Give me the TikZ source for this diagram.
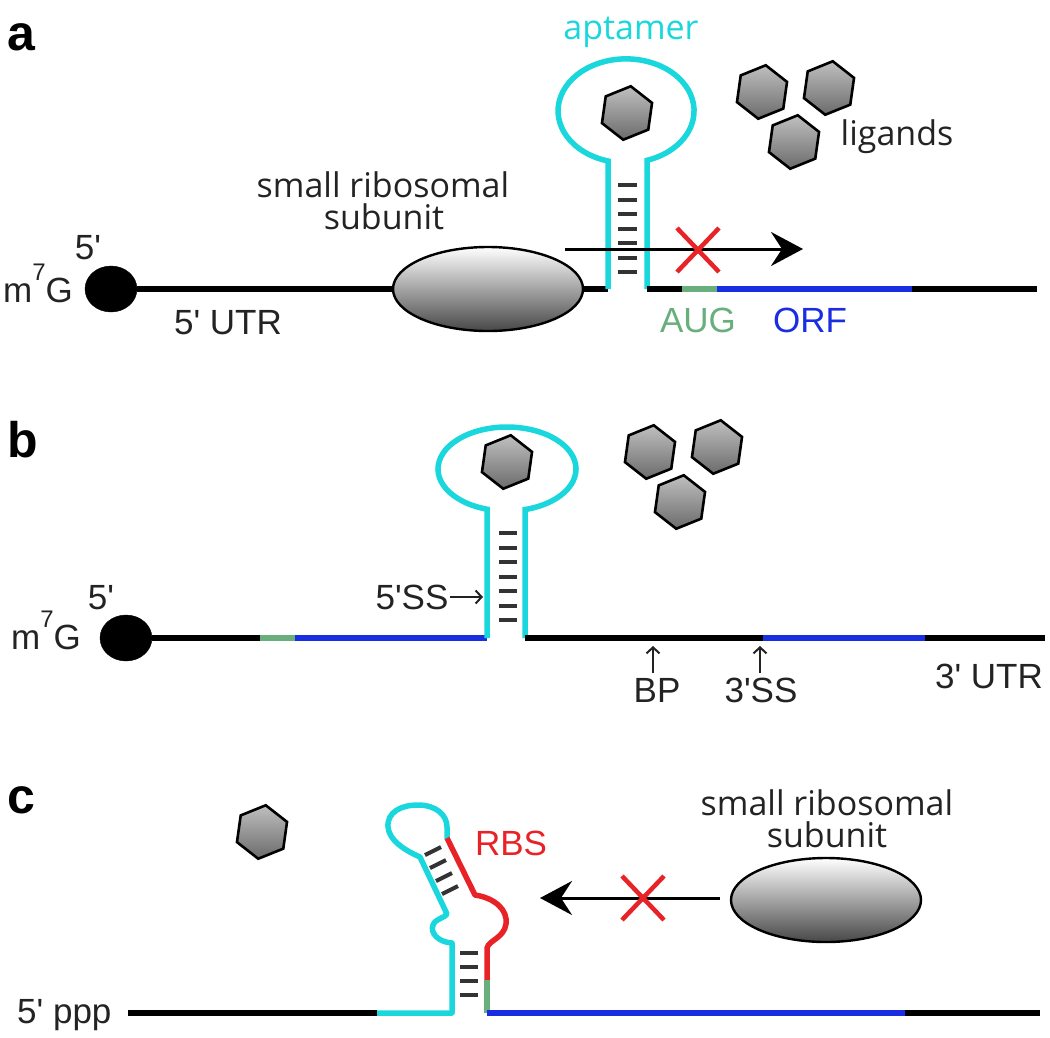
\documentclass[tikz,border=0pt]{standalone}
\usepackage{fontspec}
\setmainfont{Liberation Sans}
\newfontfamily\labfont{Liberation Sans}
\newfontfamily\humfont{Open Sans}
\usetikzlibrary{shapes.geometric,arrows.meta}
\definecolor{apt}{RGB}{25,215,220}
\definecolor{orf}{RGB}{25,45,225}
\definecolor{aug}{RGB}{105,175,125}
\definecolor{rbs}{RGB}{232,35,40}
\definecolor{txt}{RGB}{35,35,35}
\begin{document}
\begin{tikzpicture}[x=1pt,y=-1pt,
  rna/.style={line width=5.5pt},
  rung/.style={line width=4pt,black!80},
  capnode/.style={ellipse,fill=black,draw=black,minimum width=52pt,minimum height=46pt,inner sep=0pt},
  ribo/.style={ellipse,draw=black,line width=2.4pt,minimum width=190pt,minimum height=84pt,inner sep=0pt,
    top color=white,middle color=gray!30,bottom color=black!72},
  lig/.style={regular polygon,regular polygon sides=6,minimum size=54pt,inner sep=0pt,draw=black,line width=2.6pt,
    rotate=22,top color=gray!50,middle color=gray!10,bottom color=black!58},
  lbl/.style={font=\labfont\fontsize{35}{40}\selectfont,text=txt,inner sep=0pt,anchor=base},
  hum/.style={font=\humfont\fontsize{34}{32}\selectfont,text=txt,inner sep=0pt,anchor=base},
  panel/.style={font=\labfont\bfseries\fontsize{50}{50}\selectfont,inner sep=0pt,anchor=base west},
  xmark/.style={rbs,line width=4.5pt},
  blk/.style={line width=3pt,-{Stealth[length=32pt,width=34pt,inset=11pt]}},
  smallarr/.style={line width=2pt,txt,-{Straight Barb[length=6pt,width=13pt]}}
]
\useasboundingbox (0,0) rectangle (1050,1037);

% ================= panel a =================
\node[panel] (la) at (7,50) {a};
\node[capnode] (capa) at (111,289) {};
\node[lbl] (fivea) at (88,259.5) {5'};
\node[lbl,anchor=base west] (m7ga) at (3,302.5) {m\raisebox{22pt}{\fontsize{24}{24}\selectfont 7}\kern0pt G};
\node[lbl] (utra) at (228,334.5) {5' UTR};
\node[ribo] (riboa) at (488,289) {};
\node[hum] (riboatext1) at (383,197) {small ribosomal};
\node[hum] (riboatext2) at (384,229) {subunit};
\node[hum,text=apt] (apttext) at (631,39) {aptamer};
\node[hum] (ligtext) at (897,145) {ligands};
\node[lbl,text=aug] (augtext) at (698,332.5) {AUG};
\node[lbl,text=orf] (orftext) at (810,332.5) {ORF};

\coordinate (a1) at (608,289);
\coordinate (a2) at (647,289);
\coordinate (a3) at (682,289);
\coordinate (a4) at (717,289);
\coordinate (a5) at (912,289);
\coordinate (a6) at (1037,289);
\draw[rna] (capa) -- (riboa);
\draw[rna] (riboa) -- (a1);
\draw[rna,apt] (a1) -- (608,161) arc[start angle=105.4,end angle=432,x radius=68,y radius=52] -- (a2);
\draw[rna] (a2) -- (a3);
\draw[rna,aug] (a3) -- (a4);
\draw[rna,orf] (a4) -- (a5);
\draw[rna] (a5) -- (a6);
\foreach \yy in {185,199.5,214,228.5,243,257.5,272}
  \draw[rung] (618,\yy) -- (637,\yy);
\node[lig] (liga0) at (627,113) {};
\node[lig] (liga1) at (762,92) {};
\node[lig] (liga2) at (829,88) {};
\node[lig] (liga3) at (794,142) {};
\coordinate (arA0) at (565,249);
\coordinate (arA1) at (803,249);
\draw[blk] (arA0) -- (arA1);
\coordinate (xa) at (698,250);
\draw[xmark] ([shift={(-21,-22)}]xa) -- ([shift={(21,22)}]xa);
\draw[xmark] ([shift={(-21,22)}]xa) -- ([shift={(21,-22)}]xa);

% ================= panel b =================
\node[panel] (lb) at (7,457) {b};
\node[capnode] (capb) at (126,638) {};
\node[lbl] (fiveb) at (101,609.5) {5'};
\node[lbl,anchor=base west] (m7gb) at (11,649.5) {m\raisebox{22pt}{\fontsize{24}{24}\selectfont 7}\kern0pt G};
\coordinate (b1) at (260,638);
\coordinate (b2) at (295,638);
\coordinate (b3) at (487,638);
\coordinate (b4) at (525,638);
\coordinate (b5) at (763,638);
\coordinate (b6) at (925,638);
\coordinate (b7) at (1045,638);
\draw[rna] (capb) -- (b1);
\draw[rna,aug] (b1) -- (b2);
\draw[rna,orf] (b2) -- (b3);
\draw[rna,apt] (b3) -- (487,509.2) arc[start angle=106.85,end angle=434.88,x radius=69,y radius=42] -- (b4);
\draw[rna] (b4) -- (b5);
\draw[rna,orf] (b5) -- (b6);
\draw[rna] (b6) -- (b7);
\foreach \yy in {533,547.5,562,576.5,591,605.5,620}
  \draw[rung] (499,\yy) -- (517,\yy);
\node[lig] (ligb0) at (507,462) {};
\node[lig] (ligb1) at (650,452) {};
\node[lig] (ligb2) at (717,447) {};
\node[lig] (ligb3) at (680,502) {};
\node[lbl] (ss5) at (412,609.5) {5'SS};
\coordinate (ss5a) at (450,597);
\coordinate (ss5b) at (483,597);
\draw[smallarr] (ss5a) -- (ss5b);
\node[lbl] (bp) at (657,702) {BP};
\coordinate (bpa) at (653,673);
\coordinate (bpb) at (653,646);
\draw[smallarr] (bpa) -- (bpb);
\node[lbl] (ss3) at (761,702) {3'SS};
\coordinate (ss3a) at (760,673);
\coordinate (ss3b) at (760,646);
\draw[smallarr] (ss3a) -- (ss3b);
\node[lbl] (utr3) at (989,688.5) {3' UTR};

% ================= panel c =================
\node[panel] (lc) at (7,813) {c};
\node[lig] (ligc) at (262,832) {};
\node[lbl,anchor=base west] (ppp) at (17,1023) {5' ppp};
\coordinate (c0) at (128,1013);
\coordinate (c1) at (377,1013);
\coordinate (c2) at (452,1013);
\coordinate (c3) at (487,1013);
\coordinate (c4) at (905,1013);
\coordinate (c5) at (1040,1013);
\draw[rna] (c0) -- (c1);
\draw[rna,apt,line join=round] (c1) -- (c2) -- (452,943)
   .. controls (438,942) and (430,933) .. (433,925)
   .. controls (436,918) and (445,918) .. (447,914)
   -- (420,857)
   .. controls (404,850) and (389,840) .. (388,827)
   .. controls (387,812) and (401,805) .. (418,805)
   .. controls (436,805) and (447,815) .. (447,827) -- (447,839);
\draw[rna,rbs,line join=round] (447,838) -- (475,895)
   .. controls (495,898) and (508,910) .. (506,924)
   .. controls (504,938) and (489,940) .. (487,948) -- (487,980);
\draw[rna,aug] (487,980) -- (c3);
\draw[rna,orf] (c3) -- (c4);
\draw[rna] (c4) -- (c5);
\foreach \yy in {953,967,981,995}
  \draw[rung] (460,\yy) -- (478,\yy);
\foreach \xx/\yy in {433/851,438/864,444/877,450/890}
  \draw[rung] (\xx-8,\yy+4) -- (\xx+8,\yy-4);
\node[lbl,text=rbs] (rbstext) at (511,855) {RBS};
\node[ribo] (riboc) at (826,900) {};
\node[hum] (ribotext1) at (827,815) {small ribosomal};
\node[hum] (ribotext2) at (827,847) {subunit};
\coordinate (arC0) at (720,898);
\coordinate (arC1) at (540,898);
\draw[blk] (arC0) -- (arC1);
\coordinate (xc) at (643,898);
\draw[xmark] ([shift={(-21,-22)}]xc) -- ([shift={(21,22)}]xc);
\draw[xmark] ([shift={(-21,22)}]xc) -- ([shift={(21,-22)}]xc);
\end{tikzpicture}
\end{document}
